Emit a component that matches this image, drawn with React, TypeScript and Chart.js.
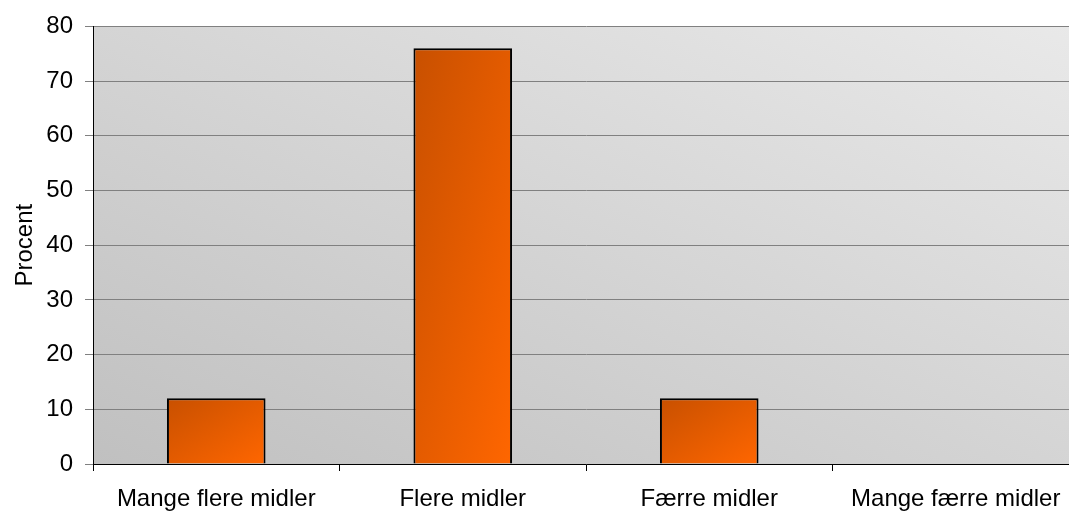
import React, { useEffect, useRef } from "react";
import { Chart, registerables } from "chart.js";

Chart.register(...registerables);

const categories = ["Mange flere midler", "Flere midler", "Færre midler", "Mange færre midler"];
const values = [12, 76, 12, 0];
const yTicks = [0, 10, 20, 30, 40, 50, 60, 70, 80];

const FONT = "'Liberation Sans', Arial, sans-serif";

const bgPlugin = {
  id: "plotBg",
  beforeDraw(chart: any) {
    const { ctx, chartArea } = chart;
    if (!chartArea) return;
    const { left, right, top, bottom } = chartArea;
    const w = right - left;
    const h = bottom - top;
    const f = (2 * w * h) / (w * w + h * h);
    const g = ctx.createLinearGradient(left, bottom, left + h * f, bottom - w * f);
    g.addColorStop(0, "#c0c0c0");
    g.addColorStop(1, "#e9e9e9");
    ctx.save();
    ctx.fillStyle = g;
    ctx.fillRect(left, top, w, h);
    ctx.restore();
  },
};

export default function App() {
  const ref = useRef<HTMLCanvasElement | null>(null);
  useEffect(() => {
    if (!ref.current) return;
    const chart = new Chart(ref.current, {
      type: "bar",
      data: {
        labels: categories,
        datasets: [
          {
            data: values,
            borderColor: "#000000",
            borderWidth: 2,
            barPercentage: 0.4,
            categoryPercentage: 1,
            backgroundColor: (c: any) => {
              const chart = c.chart;
              const area = chart.chartArea;
              const xs = chart.scales?.x;
              const ys = chart.scales?.y;
              if (!area || !xs || !ys || c.dataIndex === undefined) return "#e85c00";
              const v = values[c.dataIndex];
              const cx = xs.getPixelForValue(c.dataIndex);
              const catW = (area.right - area.left) / categories.length;
              const w = catW * 0.4;
              const x0 = cx - w / 2;
              const y0 = ys.getPixelForValue(v);
              const y1 = ys.getPixelForValue(0);
              const h = Math.max(1, y1 - y0);
              const f = (2 * w * h) / (w * w + h * h);
              const g = chart.ctx.createLinearGradient(x0, y0, x0 + h * f, y0 + w * f);
              g.addColorStop(0, "#c85000");
              g.addColorStop(1, "#ff6600");
              return g;
            },
          },
        ],
      },
      options: {
        animation: false,
        responsive: false,
        layout: { padding: { top: 25, right: 6, bottom: 0, left: 0 } },
        plugins: { legend: { display: false }, tooltip: { enabled: false } },
        scales: {
          x: {
            afterFit: (s: any) => {
              s.height = 47;
            },
            grid: {
              offset: true,
              drawOnChartArea: false,
              color: "#000000",
              tickLength: 7,
            },
            border: { color: "#000000", width: 1 },
            ticks: {
              color: "#000000",
              font: { family: FONT, size: 24 },
              padding: 14,
              maxRotation: 0,
            },
          },
          y: {
            min: 0,
            max: 80,
            afterFit: (s: any) => {
              s.width = 93;
            },
            afterBuildTicks: (s: any) => {
              s.ticks = yTicks.map((v) => ({ value: v }));
            },
            grid: {
              color: "#808080",
              tickLength: 8,
            },
            border: { color: "#000000", width: 1 },
            ticks: {
              color: "#000000",
              font: { family: FONT, size: 24 },
              padding: 12,
            },
            title: {
              display: true,
              text: "Procent",
              color: "#000000",
              font: { family: FONT, size: 24 },
              padding: { top: 11, bottom: 0 },
            },
          },
        },
      },
      plugins: [bgPlugin],
    });
    return () => chart.destroy();
  }, []);
  return (
    <div
      style={{
        position: "fixed",
        left: 0,
        top: 0,
        width: 1069,
        height: 511,
        overflow: "hidden",
        background: "#ffffff",
      }}
    >
      <canvas ref={ref} width={1085} height={511} style={{ width: 1085, height: 511, display: "block" }} />
    </div>
  );
}
